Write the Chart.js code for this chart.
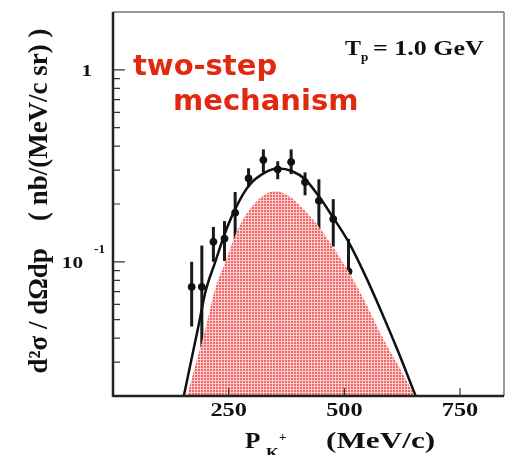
<!DOCTYPE html>
<html>
<head>
<meta charset="utf-8">
<script src="https://cdn.jsdelivr.net/npm/chart.js@4.4.0/dist/chart.umd.min.js"></script>
<style>
  html, body { margin: 0; padding: 0; background: #fff; }
  #wrap { width: 509px; height: 455px; position: relative; }
</style>
</head>
<body>
<div id="wrap"><canvas id="chartPK"></canvas></div>
<script>
// measured points with error bars
const pK = [170, 192, 217, 241, 264, 293, 325, 356, 385, 415, 445, 476, 509];
const sigma = [0.074, 0.074, 0.127, 0.132, 0.18, 0.272, 0.339, 0.303, 0.331, 0.26, 0.208, 0.167, 0.089];
const errLow = [0.046, 0.0254, 0.1, 0.101, 0.127, 0.245, 0.292, 0.269, 0.286, 0.222, 0.137, 0.12, 0.047];
const errHigh = [0.1, 0.1215, 0.152, 0.163, 0.231, 0.307, 0.385, 0.334, 0.385, 0.292, 0.269, 0.212, 0.1316];

// total calculation (black curve)
const fitP = [153, 167, 185, 200, 221, 243, 264, 293, 329, 358, 386, 415, 444, 473, 509, 545, 580, 616, 654];
const fitS = [0.02, 0.029, 0.0467, 0.07, 0.1, 0.143, 0.188, 0.248, 0.292, 0.306, 0.297, 0.269, 0.2205, 0.174, 0.127, 0.085, 0.055, 0.0342, 0.02];

// two-step contribution (red area)
const twoP = [160, 178, 200, 221, 243, 264, 286, 315, 351, 379, 408, 437, 473, 509, 545, 580, 616, 652];
const twoS = [0.02, 0.029, 0.045, 0.0725, 0.1, 0.137, 0.174, 0.212, 0.234, 0.2205, 0.192, 0.161, 0.1215, 0.0888, 0.0618, 0.0415, 0.029, 0.02];

const xTicks = [250, 500, 750];
const yMajor = [1, 0.1];
const yMinor = [0.03, 0.04, 0.05, 0.06, 0.07, 0.08, 0.09, 0.2, 0.3, 0.4, 0.5, 0.6, 0.7, 0.8, 0.9];

function hatch() {
    const c = document.createElement('canvas');
    c.width = 3; c.height = 3;
    const g = c.getContext('2d');
    g.fillStyle = '#f26666';
    g.fillRect(0, 0, 3, 3);
    g.fillStyle = '#fccece';
    g.fillRect(2, 0, 1, 3);
    g.fillRect(0, 2, 3, 1);
    return g.createPattern(c, 'repeat');
}

function txt(ctx, s, x, y, font, align, sx) {
    ctx.save();
    ctx.font = font;
    ctx.textAlign = align || 'left';
    ctx.translate(x, y);
    ctx.scale(sx || 1, 1);
    ctx.fillText(s, 0, 0);
    ctx.restore();
}

const SERIF = '"Liberation Serif", "DejaVu Serif", serif';

const decor = {
    id: 'decor',
    beforeDatasetDraw(chart, args) {
        if (args.index !== 2) return;
        const { ctx, scales: { x, y } } = chart;
        ctx.save();
        ctx.strokeStyle = '#1a1a1a';
        ctx.lineWidth = 3;
        pK.forEach((p, i) => {
            const px = x.getPixelForValue(p);
            ctx.beginPath();
            ctx.moveTo(px, y.getPixelForValue(errLow[i]));
            ctx.lineTo(px, y.getPixelForValue(errHigh[i]));
            ctx.stroke();
        });
        ctx.restore();
    },
    afterDraw(chart) {
        const { ctx, chartArea: a, scales: { x, y } } = chart;
        ctx.save();
        // frame
        ctx.strokeStyle = '#777';
        ctx.lineWidth = 1.5;
        ctx.beginPath();
        ctx.moveTo(a.left, a.top); ctx.lineTo(a.right, a.top);
        ctx.moveTo(a.right, a.top); ctx.lineTo(a.right, a.bottom);
        ctx.stroke();
        ctx.strokeStyle = '#222';
        ctx.lineWidth = 2.5;
        ctx.beginPath();
        ctx.moveTo(a.left, a.top); ctx.lineTo(a.left, a.bottom + 1);
        ctx.moveTo(a.left, a.bottom); ctx.lineTo(a.right, a.bottom);
        ctx.stroke();
        // ticks
        ctx.lineWidth = 1.2;
        ctx.strokeStyle = '#333';
        ctx.beginPath();
        yMajor.forEach(v => { const py = y.getPixelForValue(v); ctx.moveTo(a.left, py); ctx.lineTo(a.left + 12, py); });
        yMinor.forEach(v => { const py = y.getPixelForValue(v); ctx.moveTo(a.left, py); ctx.lineTo(a.left + 7, py); });
        xTicks.forEach(v => { const px = x.getPixelForValue(v); ctx.moveTo(px, a.bottom); ctx.lineTo(px, a.bottom - 8); });
        ctx.stroke();

        // tick labels
        ctx.fillStyle = '#111';
        ctx.textBaseline = 'alphabetic';
        xTicks.forEach(v => txt(ctx, String(v), x.getPixelForValue(v), 416, 'bold 18px ' + SERIF, 'center', 1.35));
        txt(ctx, '1', 92, y.getPixelForValue(1) + 6, 'bold 17px ' + SERIF, 'right', 1.25);
        txt(ctx, '10', 83, y.getPixelForValue(0.1) + 6, 'bold 17px ' + SERIF, 'right', 1.25);
        txt(ctx, '-1', 94, y.getPixelForValue(0.1) - 9, 'bold 12px ' + SERIF, 'left', 1.1);

        // axis titles
        txt(ctx, 'P', 245, 448, 'bold 24px ' + SERIF, 'left', 1.05);
        txt(ctx, 'K', 266, 458, 'bold 15px ' + SERIF, 'left', 1.1);
        txt(ctx, '+', 279, 441, 'bold 13px ' + SERIF, 'left', 1);
        txt(ctx, '(MeV/c)', 326, 448, 'bold 24px ' + SERIF, 'left', 1.3);

        ctx.save();
        ctx.translate(47, 201);
        ctx.rotate(-Math.PI / 2);
        ctx.font = 'bold 27px ' + SERIF;
        ctx.textAlign = 'center';
        ctx.fillText('d\u00b2\u03c3 / d\u03a9dp    ( nb/(MeV/c sr) )', 0, 0);
        ctx.restore();

        // annotations
        txt(ctx, 'T', 345, 55, 'bold 20px ' + SERIF, 'left', 1.2);
        txt(ctx, 'p', 361, 61, 'bold 12px ' + SERIF, 'left', 1.1);
        txt(ctx, '= 1.0 GeV', 373, 55, 'bold 20px ' + SERIF, 'left', 1.3);

        ctx.fillStyle = '#e2280f';
        txt(ctx, 'two-step', 133, 75, 'bold 29px "DejaVu Sans", sans-serif', 'left', 1);
        txt(ctx, 'mechanism', 173, 110, 'bold 29px "DejaVu Sans", sans-serif', 'left', 1);
        ctx.restore();
    }
};

const ctxPK = document.getElementById('chartPK').getContext('2d');
const chartPK = new Chart(ctxPK, {
    type: 'line',
    data: {
        datasets: [{
            label: 'two-step',
            data: twoP.map((p, i) => ({ x: p, y: twoS[i] })),
            backgroundColor: hatch(),
            borderWidth: 0,
            pointRadius: 0,
            fill: 'start',
            cubicInterpolationMode: 'monotone'
        },
        {
            label: 'total',
            data: fitP.map((p, i) => ({ x: p, y: fitS[i] })),
            borderColor: '#111',
            borderWidth: 2.5,
            pointRadius: 0,
            fill: false,
            cubicInterpolationMode: 'monotone'
        },
        {
            label: 'data',
            type: 'scatter',
            data: pK.map((p, i) => ({ x: p, y: sigma[i] })),
            pointRadius: 3.5,
            pointBackgroundColor: '#111',
            pointBorderColor: '#111',
            showLine: false
        }]
    },
    options: {
        responsive: true,
        maintainAspectRatio: false,
        animation: false,
        layout: { padding: { left: 113, top: 12, right: 4, bottom: 59 } },
        plugins: { legend: { display: false }, tooltip: { enabled: false } },
        scales: {
            x: { type: 'linear', min: 0, max: 845, display: false },
            y: { type: 'logarithmic', min: 0.02, max: 2, display: false }
        }
    },
    plugins: [decor]
});
</script>
</body>
</html>
